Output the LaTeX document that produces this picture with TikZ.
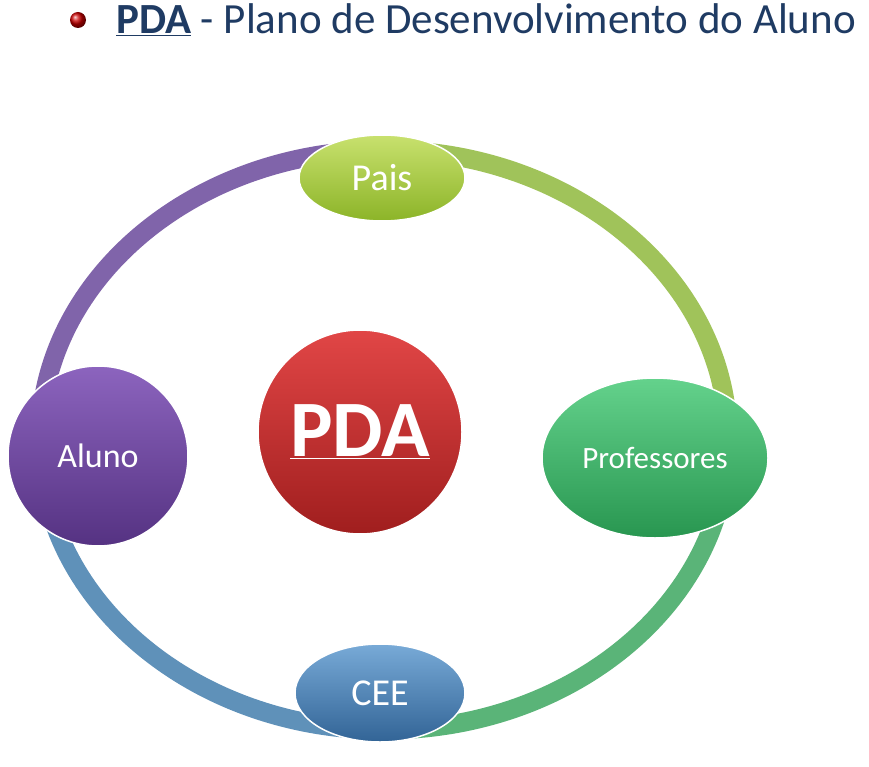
\documentclass[tikz,border=0pt]{standalone}
\usepackage{fontspec}
\setmainfont{Carlito}
\usetikzlibrary{shapes.geometric}
\definecolor{navy}{HTML}{1F3B63}
\begin{document}
\begin{tikzpicture}[x=1pt,y=-1pt,
  bub/.style={ellipse,draw=white,line width=1.5pt,text=white,inner sep=0pt,font=\fontsize{38}{44}\selectfont},
  ring/.style={line width=19pt}]
\useasboundingbox (0,0) rectangle (869,767);
% ring
\draw[ring,color={rgb,255:red,128;green,100;blue,170}] (384,440)++(180:344 and 290) arc (180:270:344 and 290);
\draw[ring,color={rgb,255:red,160;green,195;blue,90}] (384,440)++(270:344 and 290) arc (270:360:344 and 290);
\draw[ring,color={rgb,255:red,90;green,180;blue,120}] (384,440)++(0:344 and 290) arc (0:90:344 and 290);
\draw[ring,color={rgb,255:red,95;green,145;blue,185}] (384,440)++(90:344 and 290) arc (90:180:344 and 290);
% nodes
\node[bub,minimum width=166pt,minimum height=86pt,top color={rgb,255:red,200;green,225;blue,110},bottom color={rgb,255:red,140;green,180;blue,40}] (pais) at (382,178) {Pais};
\node[bub,minimum width=226pt,minimum height=160pt,font=\fontsize{31}{36}\selectfont,top color={rgb,255:red,100;green,210;blue,140},bottom color={rgb,255:red,40;green,150;blue,80}] (prof) at (655,458) {Professores};
\node[bub,minimum width=170pt,minimum height=98pt,top color={rgb,255:red,120;green,170;blue,215},bottom color={rgb,255:red,50;green,100;blue,150}] (cee) at (380,693) {CEE};
\node[bub,circle,minimum size=180pt,font=\fontsize{34}{40}\selectfont,top color={rgb,255:red,140;green,100;blue,190},bottom color={rgb,255:red,85;green,50;blue,130}] (aluno) at (98,456) {Aluno};
\node[bub,circle,minimum size=204pt,font=\fontsize{80}{90}\selectfont\bfseries,top color={rgb,255:red,225;green,70;blue,70},bottom color={rgb,255:red,160;green,30;blue,30}] (pda) at (360,432) {\underline{PDA}};
% title
\shade[ball color=red!80!black] (78,20) circle (8pt);
\node[anchor=west,text=navy,font=\fontsize{43}{50}\selectfont,inner sep=0pt] (title) at (116,20) {\textbf{\underline{PDA}} - Plano de Desenvolvimento do Aluno};
\end{tikzpicture}
\end{document}
